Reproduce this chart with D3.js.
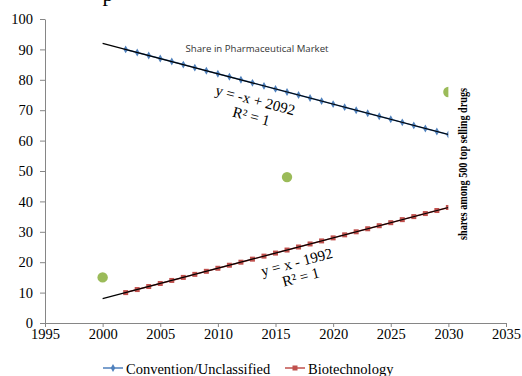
<!DOCTYPE html>
<html>
<head>
<meta charset="utf-8">
<script src="https://cdn.jsdelivr.net/npm/d3@7"></script>
<style>
  body { margin: 0; background: #fff; }
  svg { display: block; }
  .axis path, .axis line { stroke: #868686; }
</style>
</head>
<body>
<div id="chart"></div>
<script>

var years = [2002, 2003, 2004, 2005, 2006, 2007, 2008, 2009, 2010, 2011, 2012, 2013, 2014, 2015, 2016,
             2017, 2018, 2019, 2020, 2021, 2022, 2023, 2024, 2025, 2026, 2027, 2028, 2029, 2030];
var conventional = [90, 89, 88, 87, 86, 85, 84, 83, 82, 81, 80, 79, 78, 77, 76,
                    75, 74, 73, 72, 71, 70, 69, 68, 67, 66, 65, 64, 63, 62];
var biotech = [10, 11, 12, 13, 14, 15, 16, 17, 18, 19, 20, 21, 22, 23, 24,
               25, 26, 27, 28, 29, 30, 31, 32, 33, 34, 35, 36, 37, 38];
var shareYears = [2000, 2016, 2030];
var shareValues = [15, 48, 76];
var trendRange = [2000, 2030];
var xTicks = [1995, 2000, 2005, 2010, 2015, 2020, 2025, 2030, 2035];
var yTicks = [0, 10, 20, 30, 40, 50, 60, 70, 80, 90, 100];
var seriesNames = ["Convention/Unclassified", "Biotechnology"];

var width = 522, height = 376;
var serif = '"Liberation Serif", "Times New Roman", Times, serif';

var svg = d3.select("#chart").append("svg")
    .attr("width", width)
    .attr("height", height);

var x = d3.scaleLinear().domain([1995, 2035]).range([45, 506]);
var y = d3.scaleLinear().domain([0, 100]).range([323, 19]);

// cut-off title, only a descender shows at the top
svg.append("text")
    .attr("x", 108).attr("y", 1)
    .attr("text-anchor", "middle")
    .style("font-family", serif)
    .style("font-size", "22px")
    .text("p");

// axes
var xAxis = svg.append("g")
    .attr("class", "axis")
    .attr("transform", "translate(0," + y(0) + ")")
    .call(d3.axisBottom(x).tickValues(xTicks).tickFormat(d3.format("d")).tickSizeInner(4).tickSizeOuter(0).tickPadding(2));

var yAxis = svg.append("g")
    .attr("class", "axis")
    .attr("transform", "translate(" + x(1995) + ",0)")
    .call(d3.axisLeft(y).tickValues(yTicks).tickSizeInner(5).tickSizeOuter(0).tickPadding(7));

[xAxis, yAxis].forEach(function(a) {
  a.attr("font-family", null).attr("font-size", null);
  a.selectAll(".tick text")
      .style("font-family", serif)
      .style("font-size", "14.5px")
      .style("fill", "#000");
});

// least squares fit
function fit(xs, ys) {
  var mx = d3.mean(xs), my = d3.mean(ys);
  var num = d3.sum(xs, function(d, i) { return (d - mx) * (ys[i] - my); });
  var den = d3.sum(xs, function(d) { return (d - mx) * (d - mx); });
  var b = num / den;
  return { slope: b, intercept: my - b * mx };
}

var colors = ["#4F81BD", "#C0504D"];
var seriesData = [conventional, biotech];

var line = d3.line()
    .x(function(d) { return x(d[0]); })
    .y(function(d) { return y(d[1]); });

seriesData.forEach(function(vals, s) {
  var pts = years.map(function(yr, i) { return [yr, vals[i]]; });
  svg.append("path")
      .attr("d", line(pts))
      .attr("fill", "none")
      .attr("stroke", colors[s])
      .attr("stroke-width", 1.5);

  if (s === 0) {
    svg.append("g").selectAll("path")
        .data(pts).enter().append("path")
        .attr("d", d3.symbol().type(d3.symbolDiamond).size(18))
        .attr("transform", function(d) { return "translate(" + x(d[0]) + "," + y(d[1]) + ")"; })
        .attr("fill", colors[s]);
  } else {
    svg.append("g").selectAll("rect")
        .data(pts).enter().append("rect")
        .attr("x", function(d) { return x(d[0]) - 2.5; })
        .attr("y", function(d) { return y(d[1]) - 2.5; })
        .attr("width", 5).attr("height", 5)
        .attr("fill", colors[s]);
  }

  // trendline
  var f = fit(years, vals);
  var tpts = trendRange.map(function(yr) { return [yr, f.slope * yr + f.intercept]; });
  svg.append("path")
      .attr("d", line(tpts))
      .attr("stroke", "#000")
      .attr("stroke-width", 1.2);
});

// trend equations
var eqs = [
  { lines: ["y = -x + 2092", "R² = 1"], pos: [[254, 105], [250, 121]] },
  { lines: ["y = x - 1992", "R² = 1"], pos: [[298, 267], [302, 282]] }
];
seriesData.forEach(function(vals, s) {
  var f = fit(years, vals);
  var ang = Math.atan2(y(f.slope * trendRange[1] + f.intercept) - y(f.slope * trendRange[0] + f.intercept),
                       x(trendRange[1]) - x(trendRange[0])) * 180 / Math.PI;
  eqs[s].lines.forEach(function(t, k) {
    var p = eqs[s].pos[k];
    svg.append("text")
        .attr("transform", "translate(" + p[0] + "," + p[1] + ") rotate(" + ang + ")")
        .attr("text-anchor", "middle")
        .style("font-family", serif)
        .style("font-size", "15px")
        .text(t);
  });
});

// share points
svg.append("g").selectAll("circle")
    .data(shareYears).enter().append("circle")
    .attr("cx", function(d) { return x(d); })
    .attr("cy", function(d, i) { return y(shareValues[i]); })
    .attr("r", 5.2)
    .attr("fill", "#9BBB59");

// annotations
svg.append("text")
    .attr("x", 257).attr("y", 52)
    .attr("text-anchor", "middle")
    .attr("textLength", 143)
    .attr("lengthAdjust", "spacingAndGlyphs")
    .style("font-family", '"Open Sans", "Liberation Sans", Arial, sans-serif')
    .style("font-size", "9.5px")
    .style("fill", "#333")
    .text("Share in Pharmaceutical Market");

svg.append("rect")
    .attr("x", x(2030)).attr("y", 84)
    .attr("width", 22).attr("height", 162)
    .attr("fill", "#fff");

svg.append("text")
    .attr("transform", "translate(467,164) rotate(-90)")
    .attr("text-anchor", "middle")
    .attr("textLength", 152)
    .attr("lengthAdjust", "spacingAndGlyphs")
    .style("font-family", serif)
    .style("font-size", "13px")
    .style("font-weight", "bold")
    .text("shares among 500 top selling drugs");

// legend
var legendX = [103, 285];
seriesNames.forEach(function(name, i) {
  var g = svg.append("g").attr("transform", "translate(" + legendX[i] + ",368)");
  g.append("line").attr("x1", 0).attr("x2", 20).attr("stroke", colors[i]).attr("stroke-width", 1.5);
  if (i === 0) {
    g.append("path").attr("d", d3.symbol().type(d3.symbolDiamond).size(18)).attr("transform", "translate(10,0)").attr("fill", colors[i]);
  } else {
    g.append("rect").attr("x", 7.5).attr("y", -2.5).attr("width", 5).attr("height", 5).attr("fill", colors[i]);
  }
  g.append("text")
      .attr("x", 23).attr("y", 6)
      .style("font-family", serif)
      .style("font-size", "14.5px")
      .text(name);
});

</script>
</body>
</html>
